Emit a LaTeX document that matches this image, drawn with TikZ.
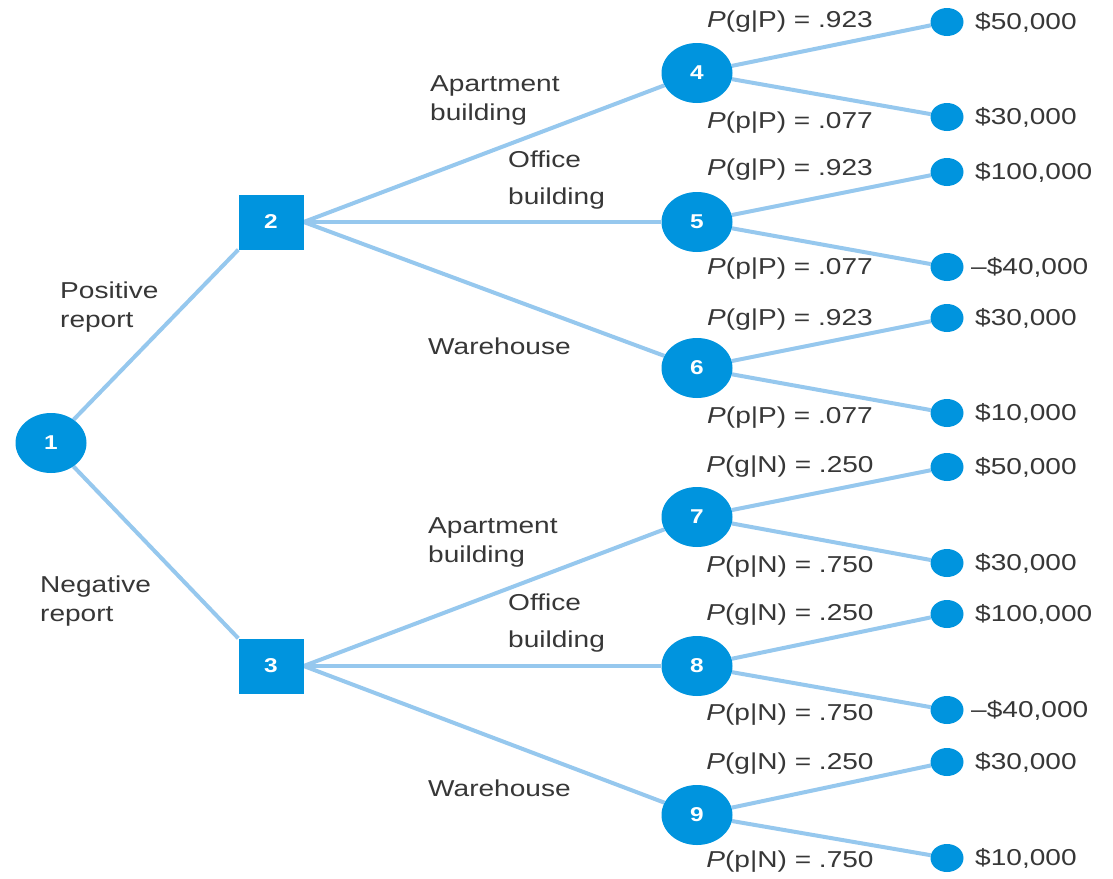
\documentclass[tikz,border=0pt]{standalone}
\usepackage{fontspec}
\setmainfont[FakeStretch=1.22]{Liberation Sans}
\usetikzlibrary{shapes.geometric,backgrounds}
\definecolor{linec}{RGB}{150,200,238}
\definecolor{nodec}{RGB}{0,148,222}
\definecolor{textc}{RGB}{55,55,55}
\tikzset{
  branch/.style={line width=4pt, color=linec},
  chance/.style={ellipse, fill=nodec, minimum width=71pt, minimum height=60pt, inner sep=0pt, text=white, font=\fontsize{20}{22}\selectfont\bfseries},
  decision/.style={rectangle, fill=nodec, minimum width=65pt, minimum height=55pt, inner sep=0pt, text=white, font=\fontsize{20}{22}\selectfont\bfseries},
  term/.style={ellipse, fill=nodec, minimum width=33pt, minimum height=28pt, inner sep=0pt},
  lbl/.style={text=textc, font=\fontsize{23}{29}\selectfont, align=left, inner sep=0pt},
  prob/.style={lbl, anchor=center},
  val/.style={lbl, anchor=west}
}
\newcommand{\pr}[3]{{\itshape P}(#1|#2) = #3}
\begin{document}
\begin{tikzpicture}[x=1pt,y=-1pt]
\useasboundingbox (0,0) rectangle (1113,878);
% decision / chance nodes
\node[chance] (n1) at (51,443) {1};
\node[decision] (n2) at (271,222) {2};
\node[decision] (n3) at (271,666) {3};
\node[chance] (n4) at (697,73) {4};
\node[chance] (n5) at (697,222) {5};
\node[chance] (n6) at (697,368) {6};
\node[chance] (n7) at (697,517) {7};
\node[chance] (n8) at (697,666) {8};
\node[chance] (n9) at (697,815) {9};
% terminals
\node[term] (t1) at (947,22) {};
\node[term] (t2) at (947,117) {};
\node[term] (t3) at (947,172) {};
\node[term] (t4) at (947,267) {};
\node[term] (t5) at (947,318) {};
\node[term] (t6) at (947,413) {};
\node[term] (t7) at (947,467) {};
\node[term] (t8) at (947,563) {};
\node[term] (t9) at (947,614) {};
\node[term] (t10) at (947,710) {};
\node[term] (t11) at (947,762) {};
\node[term] (t12) at (947,858) {};
% values
\node[val] (v1) at (975,22) {\$50,000};
\node[val] (v2) at (975,117) {\$30,000};
\node[val] (v3) at (975,172) {\$100,000};
\node[val] (v4) at (971,267) {--\$40,000};
\node[val] (v5) at (975,318) {\$30,000};
\node[val] (v6) at (975,413) {\$10,000};
\node[val] (v7) at (975,467) {\$50,000};
\node[val] (v8) at (975,563) {\$30,000};
\node[val] (v9) at (975,614) {\$100,000};
\node[val] (v10) at (971,710) {--\$40,000};
\node[val] (v11) at (975,762) {\$30,000};
\node[val] (v12) at (975,858) {\$10,000};
% probabilities
\node[prob] (p1) at (790,22) {\pr{g}{P}{.923}};
\node[prob] (p2) at (790,123) {\pr{p}{P}{.077}};
\node[prob] (p3) at (790,170) {\pr{g}{P}{.923}};
\node[prob] (p4) at (790,269) {\pr{p}{P}{.077}};
\node[prob] (p5) at (790,320) {\pr{g}{P}{.923}};
\node[prob] (p6) at (790,418) {\pr{p}{P}{.077}};
\node[prob] (p7) at (790,467) {\pr{g}{N}{.250}};
\node[prob] (p8) at (790,567) {\pr{p}{N}{.750}};
\node[prob] (p9) at (790,615) {\pr{g}{N}{.250}};
\node[prob] (p10) at (790,715) {\pr{p}{N}{.750}};
\node[prob] (p11) at (790,764) {\pr{g}{N}{.250}};
\node[prob] (p12) at (790,862) {\pr{p}{N}{.750}};
% branch labels
\node[lbl, anchor=west] (l1) at (60,307) {Positive\\report};
\node[lbl, anchor=west] (l2) at (40,601) {Negative\\report};
\node[lbl, anchor=west] (l3) at (430,100) {Apartment\\building};
\node[lbl, anchor=west] (l4) at (508,180) {Office\\[8pt]building};
\node[lbl, anchor=west] (l5) at (428,346) {Warehouse};
\node[lbl, anchor=west] (l6) at (428,542) {Apartment\\building};
\node[lbl, anchor=west] (l7) at (508,623) {Office\\[8pt]building};
\node[lbl, anchor=west] (l8) at (428,788) {Warehouse};
% connectors
\begin{pgfonlayer}{background}
\fill[white] (0,0) rectangle (1113,878);
\draw[branch] (n1) -- (n2.south west);
\draw[branch] (n1) -- (n3.north west);
\foreach \a/\b in {n2/n4,n2/n5,n2/n6,n3/n7,n3/n8,n3/n9}
  \draw[branch] (\a.east) -- (\b);
\foreach \a/\b in {n4/t1,n4/t2,n5/t3,n5/t4,n6/t5,n6/t6,n7/t7,n7/t8,n8/t9,n8/t10,n9/t11,n9/t12}
  \draw[branch] (\a) -- (\b);
\end{pgfonlayer}
\end{tikzpicture}
\end{document}
